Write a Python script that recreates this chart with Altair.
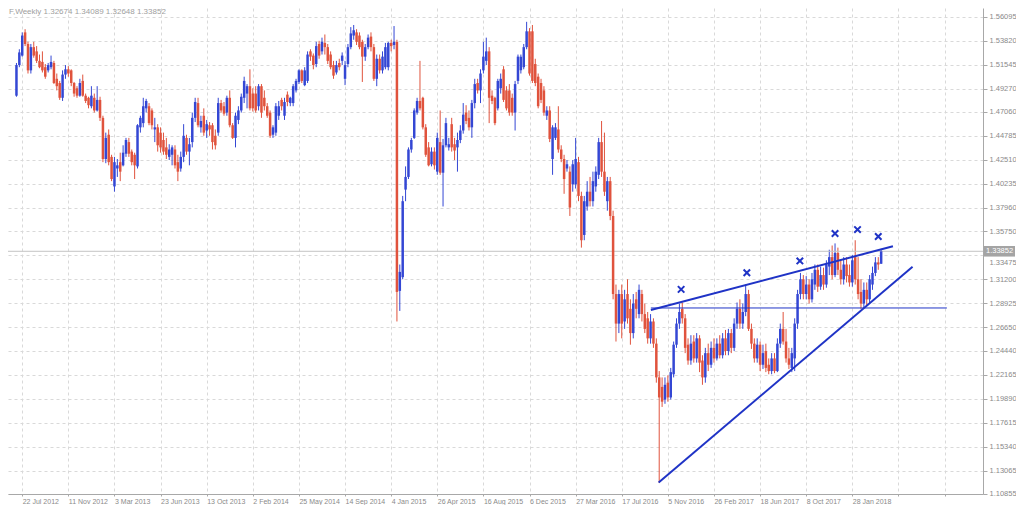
import altair as alt
import pandas as pd

header = "F,Weekly  1.32674 1.34089 1.32648 1.33852"

opens = [
    1.486, 1.515, 1.524, 1.546, 1.535, 1.510, 1.532, 1.528, 1.519, 1.518,
    1.513, 1.510, 1.513, 1.517, 1.502, 1.498, 1.484, 1.506, 1.511, 1.510,
    1.498, 1.493, 1.486, 1.500, 1.486, 1.484, 1.476, 1.484, 1.472, 1.482,
    1.465, 1.426, 1.449, 1.428, 1.400, 1.417, 1.423, 1.420, 1.431, 1.442,
    1.433, 1.430, 1.419, 1.456, 1.460, 1.474, 1.476, 1.472, 1.454, 1.456,
    1.451, 1.444, 1.437, 1.428, 1.430, 1.435, 1.423, 1.417, 1.428, 1.446,
    1.433, 1.442, 1.465, 1.479, 1.456, 1.467, 1.453, 1.458, 1.458, 1.448,
    1.451, 1.479, 1.476, 1.470, 1.484, 1.458, 1.446, 1.463, 1.472, 1.484,
    1.488, 1.495, 1.488, 1.488, 1.476, 1.495, 1.484, 1.476, 1.470, 1.449,
    1.451, 1.467, 1.482, 1.467, 1.487, 1.479, 1.479, 1.491, 1.499, 1.510,
    1.496, 1.500, 1.528, 1.524, 1.516, 1.535, 1.528, 1.536, 1.532, 1.525,
    1.515, 1.508, 1.517, 1.519, 1.502, 1.516, 1.532, 1.543, 1.546, 1.543,
    1.537, 1.523, 1.532, 1.542, 1.532, 1.502, 1.521, 1.510, 1.513, 1.513,
    1.536, 1.534, 1.537, 1.301, 1.314, 1.397, 1.409, 1.435, 1.446, 1.470,
    1.481, 1.484, 1.456, 1.437, 1.421, 1.433, 1.414, 1.442, 1.413, 1.439,
    1.437, 1.459, 1.440, 1.437, 1.444, 1.453, 1.470, 1.465, 1.456, 1.479,
    1.498, 1.491, 1.510, 1.519, 1.528, 1.486, 1.484, 1.474, 1.493, 1.511,
    1.491, 1.491, 1.484, 1.470, 1.500, 1.510, 1.513, 1.532, 1.547, 1.547,
    1.516, 1.504, 1.498, 1.491, 1.467, 1.472, 1.426, 1.446, 1.454, 1.435,
    1.426, 1.417, 1.414, 1.402, 1.402, 1.423, 1.391, 1.354, 1.381, 1.395,
    1.386, 1.400, 1.411, 1.442, 1.414, 1.386, 1.405, 1.372, 1.298, 1.270,
    1.298, 1.272, 1.298, 1.284, 1.261, 1.293, 1.279, 1.298, 1.279, 1.275,
    1.256, 1.272, 1.251, 1.219, 1.210, 1.198, 1.214, 1.200, 1.222, 1.250,
    1.270, 1.284, 1.275, 1.250, 1.235, 1.253, 1.237, 1.256, 1.235, 1.219,
    1.242, 1.231, 1.247, 1.237, 1.251, 1.240, 1.256, 1.244, 1.261, 1.247,
    1.270, 1.284, 1.270, 1.281, 1.298, 1.265, 1.251, 1.237, 1.250, 1.231,
    1.244, 1.231, 1.225, 1.237, 1.225, 1.251, 1.265, 1.253, 1.237, 1.228,
    1.237, 1.270, 1.298, 1.312, 1.298, 1.307, 1.293, 1.307, 1.321, 1.305,
    1.316, 1.307, 1.324, 1.333, 1.316, 1.337, 1.321, 1.312, 1.326, 1.316,
    1.309, 1.333, 1.312, 1.300, 1.289, 1.302, 1.293, 1.307, 1.318, 1.328,
    1.32674,
]

highs = [
    1.517, 1.530, 1.546, 1.549, 1.537, 1.535, 1.537, 1.533, 1.525, 1.528,
    1.516, 1.517, 1.524, 1.519, 1.507, 1.500, 1.510, 1.515, 1.514, 1.511,
    1.499, 1.495, 1.502, 1.506, 1.488, 1.485, 1.495, 1.488, 1.495, 1.485,
    1.467, 1.451, 1.454, 1.430, 1.428, 1.426, 1.432, 1.439, 1.446, 1.446,
    1.435, 1.432, 1.459, 1.467, 1.484, 1.483, 1.479, 1.474, 1.465, 1.459,
    1.456, 1.451, 1.446, 1.440, 1.439, 1.439, 1.430, 1.433, 1.459, 1.449,
    1.446, 1.470, 1.484, 1.484, 1.467, 1.474, 1.463, 1.461, 1.460, 1.454,
    1.484, 1.482, 1.480, 1.486, 1.491, 1.460, 1.470, 1.476, 1.488, 1.504,
    1.497, 1.511, 1.493, 1.495, 1.497, 1.497, 1.491, 1.479, 1.472, 1.458,
    1.479, 1.481, 1.484, 1.484, 1.490, 1.485, 1.497, 1.502, 1.511, 1.511,
    1.513, 1.528, 1.530, 1.526, 1.537, 1.538, 1.541, 1.544, 1.535, 1.528,
    1.519, 1.519, 1.521, 1.527, 1.519, 1.535, 1.551, 1.553, 1.549, 1.546,
    1.539, 1.535, 1.544, 1.546, 1.535, 1.525, 1.525, 1.528, 1.536, 1.537,
    1.539, 1.552, 1.539, 1.326, 1.391, 1.419, 1.437, 1.446, 1.474, 1.484,
    1.519, 1.485, 1.459, 1.442, 1.437, 1.437, 1.451, 1.472, 1.445, 1.465,
    1.446, 1.465, 1.446, 1.451, 1.458, 1.479, 1.477, 1.472, 1.482, 1.502,
    1.502, 1.511, 1.537, 1.541, 1.532, 1.491, 1.485, 1.502, 1.507, 1.514,
    1.495, 1.497, 1.488, 1.500, 1.525, 1.525, 1.535, 1.556, 1.550, 1.553,
    1.521, 1.507, 1.502, 1.495, 1.476, 1.476, 1.458, 1.460, 1.476, 1.439,
    1.430, 1.425, 1.419, 1.425, 1.446, 1.428, 1.395, 1.391, 1.405, 1.409,
    1.414, 1.419, 1.446, 1.462, 1.451, 1.409, 1.409, 1.377, 1.307, 1.302,
    1.307, 1.302, 1.312, 1.293, 1.298, 1.300, 1.307, 1.302, 1.289, 1.281,
    1.279, 1.275, 1.256, 1.225, 1.219, 1.219, 1.221, 1.228, 1.253, 1.275,
    1.289, 1.290, 1.279, 1.256, 1.259, 1.259, 1.261, 1.259, 1.240, 1.247,
    1.251, 1.253, 1.256, 1.256, 1.259, 1.261, 1.264, 1.265, 1.265, 1.275,
    1.290, 1.293, 1.289, 1.307, 1.302, 1.270, 1.256, 1.256, 1.253, 1.250,
    1.251, 1.237, 1.242, 1.242, 1.256, 1.270, 1.281, 1.265, 1.247, 1.247,
    1.275, 1.302, 1.318, 1.316, 1.315, 1.312, 1.318, 1.326, 1.326, 1.324,
    1.323, 1.330, 1.340, 1.344, 1.346, 1.342, 1.330, 1.333, 1.333, 1.326,
    1.335, 1.349, 1.333, 1.312, 1.309, 1.309, 1.316, 1.324, 1.333, 1.333,
    1.34089,
]

lows = [
    1.485, 1.513, 1.523, 1.533, 1.507, 1.507, 1.522, 1.517, 1.512, 1.508,
    1.502, 1.508, 1.511, 1.497, 1.491, 1.482, 1.481, 1.502, 1.504, 1.495,
    1.485, 1.484, 1.485, 1.485, 1.479, 1.474, 1.474, 1.470, 1.471, 1.462,
    1.423, 1.422, 1.420, 1.405, 1.395, 1.409, 1.405, 1.419, 1.428, 1.428,
    1.420, 1.407, 1.417, 1.451, 1.456, 1.470, 1.458, 1.454, 1.442, 1.433,
    1.432, 1.430, 1.426, 1.425, 1.420, 1.417, 1.405, 1.414, 1.423, 1.430,
    1.420, 1.437, 1.461, 1.456, 1.451, 1.448, 1.446, 1.448, 1.435, 1.435,
    1.448, 1.470, 1.467, 1.467, 1.456, 1.445, 1.437, 1.459, 1.470, 1.479,
    1.474, 1.472, 1.471, 1.470, 1.472, 1.465, 1.472, 1.465, 1.446, 1.446,
    1.448, 1.463, 1.472, 1.463, 1.476, 1.476, 1.476, 1.489, 1.497, 1.498,
    1.495, 1.498, 1.519, 1.511, 1.513, 1.521, 1.525, 1.525, 1.516, 1.511,
    1.502, 1.506, 1.510, 1.515, 1.496, 1.513, 1.530, 1.539, 1.534, 1.530,
    1.499, 1.519, 1.530, 1.528, 1.500, 1.495, 1.507, 1.507, 1.511, 1.510,
    1.528, 1.530, 1.272, 1.282, 1.312, 1.386, 1.407, 1.432, 1.445, 1.468,
    1.472, 1.454, 1.428, 1.419, 1.419, 1.416, 1.411, 1.411, 1.381, 1.437,
    1.434, 1.433, 1.425, 1.414, 1.441, 1.450, 1.459, 1.453, 1.446, 1.474,
    1.488, 1.479, 1.507, 1.515, 1.460, 1.478, 1.458, 1.472, 1.488, 1.480,
    1.472, 1.467, 1.467, 1.453, 1.497, 1.507, 1.511, 1.530, 1.505, 1.498,
    1.495, 1.474, 1.479, 1.467, 1.463, 1.442, 1.411, 1.444, 1.432, 1.423,
    1.393, 1.414, 1.372, 1.395, 1.398, 1.386, 1.342, 1.349, 1.377, 1.381,
    1.381, 1.395, 1.407, 1.409, 1.391, 1.377, 1.368, 1.293, 1.253, 1.261,
    1.256, 1.265, 1.270, 1.250, 1.256, 1.275, 1.275, 1.272, 1.261, 1.251,
    1.251, 1.247, 1.214, 1.119, 1.191, 1.194, 1.196, 1.198, 1.219, 1.247,
    1.265, 1.270, 1.242, 1.231, 1.231, 1.233, 1.233, 1.224, 1.212, 1.214,
    1.225, 1.228, 1.233, 1.235, 1.237, 1.237, 1.240, 1.240, 1.242, 1.244,
    1.265, 1.265, 1.265, 1.277, 1.263, 1.246, 1.233, 1.233, 1.225, 1.227,
    1.224, 1.222, 1.222, 1.223, 1.224, 1.247, 1.250, 1.233, 1.227, 1.224,
    1.225, 1.265, 1.293, 1.293, 1.293, 1.289, 1.290, 1.302, 1.300, 1.302,
    1.302, 1.304, 1.316, 1.312, 1.314, 1.316, 1.307, 1.307, 1.309, 1.305,
    1.305, 1.307, 1.293, 1.284, 1.285, 1.287, 1.289, 1.302, 1.315, 1.321,
    1.32648,
]

closes = [
    1.515, 1.527, 1.543, 1.535, 1.510, 1.532, 1.524, 1.519, 1.513, 1.510,
    1.504, 1.515, 1.518, 1.498, 1.495, 1.484, 1.506, 1.511, 1.507, 1.498,
    1.488, 1.486, 1.498, 1.486, 1.481, 1.477, 1.486, 1.472, 1.482, 1.465,
    1.426, 1.446, 1.423, 1.407, 1.423, 1.420, 1.414, 1.432, 1.444, 1.431,
    1.423, 1.420, 1.458, 1.465, 1.476, 1.481, 1.460, 1.458, 1.456, 1.439,
    1.437, 1.433, 1.430, 1.435, 1.437, 1.420, 1.414, 1.428, 1.448, 1.433,
    1.440, 1.465, 1.480, 1.458, 1.462, 1.451, 1.459, 1.454, 1.442, 1.439,
    1.479, 1.472, 1.469, 1.484, 1.458, 1.446, 1.467, 1.472, 1.485, 1.500,
    1.495, 1.474, 1.474, 1.472, 1.495, 1.470, 1.476, 1.467, 1.448, 1.456,
    1.476, 1.476, 1.476, 1.480, 1.480, 1.484, 1.495, 1.500, 1.510, 1.500,
    1.510, 1.525, 1.523, 1.515, 1.533, 1.524, 1.537, 1.532, 1.519, 1.513,
    1.505, 1.515, 1.513, 1.524, 1.515, 1.532, 1.545, 1.548, 1.537, 1.532,
    1.523, 1.532, 1.541, 1.532, 1.502, 1.521, 1.510, 1.523, 1.532, 1.536,
    1.533, 1.537, 1.300, 1.319, 1.386, 1.409, 1.435, 1.444, 1.472, 1.481,
    1.474, 1.456, 1.430, 1.420, 1.433, 1.420, 1.446, 1.413, 1.439, 1.460,
    1.440, 1.437, 1.434, 1.444, 1.453, 1.468, 1.462, 1.456, 1.479, 1.497,
    1.491, 1.507, 1.523, 1.528, 1.484, 1.481, 1.460, 1.500, 1.502, 1.482,
    1.474, 1.470, 1.470, 1.497, 1.523, 1.523, 1.532, 1.547, 1.507, 1.500,
    1.498, 1.476, 1.482, 1.470, 1.472, 1.445, 1.456, 1.456, 1.435, 1.426,
    1.407, 1.421, 1.380, 1.421, 1.426, 1.391, 1.349, 1.386, 1.395, 1.386,
    1.405, 1.414, 1.442, 1.414, 1.395, 1.405, 1.372, 1.298, 1.270, 1.298,
    1.270, 1.293, 1.275, 1.261, 1.289, 1.284, 1.302, 1.279, 1.265, 1.256,
    1.272, 1.251, 1.219, 1.200, 1.196, 1.212, 1.200, 1.224, 1.250, 1.270,
    1.281, 1.275, 1.247, 1.235, 1.251, 1.237, 1.256, 1.233, 1.219, 1.242,
    1.231, 1.247, 1.237, 1.251, 1.240, 1.256, 1.244, 1.261, 1.247, 1.270,
    1.284, 1.270, 1.281, 1.298, 1.265, 1.251, 1.237, 1.250, 1.231, 1.242,
    1.228, 1.225, 1.237, 1.225, 1.251, 1.265, 1.253, 1.237, 1.231, 1.242,
    1.270, 1.298, 1.312, 1.298, 1.307, 1.293, 1.312, 1.321, 1.305, 1.316,
    1.307, 1.326, 1.333, 1.316, 1.337, 1.321, 1.312, 1.326, 1.315, 1.309,
    1.330, 1.312, 1.298, 1.289, 1.302, 1.293, 1.312, 1.318, 1.328, 1.326,
    1.33852,
]

date_ticks = [2, 18, 34, 50, 66, 82, 98, 114, 130, 146, 162, 178, 194, 210,
              226, 242, 258, 274, 290, 306, 322]
date_labels = ["22 Jul 2012", "11 Nov 2012", "3 Mar 2013", "23 Jun 2013",
               "13 Oct 2013", "2 Feb 2014", "25 May 2014", "14 Sep 2014",
               "4 Jan 2015", "26 Apr 2015", "16 Aug 2015", "6 Dec 2015",
               "27 Mar 2016", "17 Jul 2016", "5 Nov 2016", "26 Feb 2017",
               "18 Jun 2017", "8 Oct 2017", "28 Jan 2018", "", ""]
price_ticks = [1.56095, 1.53820, 1.51545, 1.49270, 1.47060, 1.44785, 1.42510,
               1.40235, 1.37960, 1.35750, 1.33475, 1.31200, 1.28925, 1.26650,
               1.24440, 1.22165, 1.19890, 1.17615, 1.15340, 1.13065, 1.10855]
last_price = 1.33852

upper_idx = [220.1, 304.1]
upper_price = [1.2829, 1.3433]
lower_idx = [222.8, 310.9]
lower_price = [1.1194, 1.3238]
level_idx = [220.1, 322.8]
level_price = [1.2848, 1.2848]
cross_idx = [230.6, 253.4, 271.8, 284.0, 291.8, 299.0]
cross_price = [1.3024, 1.3182, 1.3294, 1.3554, 1.3591, 1.3526]

BLUE = "#3447d4"
RED = "#e0533d"
LINE_BLUE = "#1f33c6"
FONT = "Liberation Sans"
W, H = 975, 486

n = min(len(opens), len(highs), len(lows), len(closes))
df = pd.DataFrame({
    "idx": list(range(n)),
    "open": opens[:n], "high": highs[:n], "low": lows[:n], "close": closes[:n],
})
df["dir"] = ["up" if c >= o else "down" for o, c in zip(df["open"], df["close"])]

xs = alt.Scale(domain=[-1.2, 333.6], nice=False, zero=False)
ys = alt.Scale(domain=[1.1085, 1.5691], nice=False, zero=False)
color = alt.Color("dir:N", scale=alt.Scale(domain=["up", "down"], range=[BLUE, RED]), legend=None)

labels_js = "[" + ",".join("'" + s + "'" for s in date_labels) + "]"
x_axis = alt.Axis(values=date_ticks, labelExpr=labels_js + "[round((datum.value - 2) / 16)]",
                  labelAlign="left", labelBaseline="top", labelPadding=1, labelFontSize=7,
                  labelFont=FONT, labelColor="#8a8a8a", tickSize=2, tickColor="#a8a8a8",
                  domainColor="#a8a8a8", grid=True, gridColor="#d9d9d9", gridDash=[3, 3],
                  title=None, labelOverlap=False, labelFlush=False)
y_axis = alt.Axis(orient="right", values=price_ticks, format=".5f", labelFontSize=7.5,
                  labelFont=FONT, labelColor="#8a8a8a", tickSize=4, tickColor="#a8a8a8",
                  domainColor="#a8a8a8", grid=True, gridColor="#d9d9d9", gridDash=[3, 3],
                  title=None, labelPadding=2, labelOverlap=False, labelFlush=False,
                  labelOffset={"condition": {"test": "abs(datum.value - 1.33475) < 0.0001",
                                             "value": 7}, "value": 0})


def X(field):
    return alt.X(field, scale=xs, axis=x_axis, title=None)


def Y(field):
    return alt.Y(field, scale=ys, axis=y_axis, title=None)


base = alt.Chart(df)
wicks = base.mark_rule(strokeWidth=1).encode(
    x=X("idx:Q"), y=Y("low:Q"), y2="high:Q", color=color)
bodies = base.mark_bar(size=2.5).encode(
    x=X("idx:Q"), y=Y("open:Q"), y2="close:Q", color=color)

price_df = pd.DataFrame({"price": [last_price], "label": [f"{last_price:.5f}"]})
price_line = alt.Chart(price_df).mark_rule(color="#c4c4c4", strokeWidth=1).encode(
    y=Y("price:Q"))

trend_df = pd.DataFrame({
    "idx": upper_idx + lower_idx,
    "price": upper_price + lower_price,
    "line": ["upper", "upper", "lower", "lower"],
})
trends = alt.Chart(trend_df).mark_line(strokeWidth=2, color=LINE_BLUE).encode(
    x=X("idx:Q"), y=Y("price:Q"), detail="line:N")
level_df = pd.DataFrame({"idx": level_idx, "price": level_price})
level = alt.Chart(level_df).mark_line(strokeWidth=1, color=LINE_BLUE).encode(
    x=X("idx:Q"), y=Y("price:Q"))
cross_df = pd.DataFrame({"idx": cross_idx, "price": cross_price})
crosses = alt.Chart(cross_df).mark_point(
    shape="M-1,-1L1,1M1,-1L-1,1", filled=False, size=42, strokeWidth=2,
    color=LINE_BLUE, opacity=1,
).encode(x=X("idx:Q"), y=Y("price:Q"))

box = alt.Chart(price_df).mark_point(
    shape="M-1,-0.34L1,-0.34L1,0.34L-1,0.34Z", filled=True, size=31 * 31,
    color="#a4a4a4", opacity=1,
).encode(x=alt.value(W + 16.5), y=Y("price:Q"))
box_text = alt.Chart(price_df).mark_text(
    align="left", baseline="middle", fontSize=7.5, font=FONT, color="white",
).encode(x=alt.value(W + 3), y=Y("price:Q"), text="label:N")

head_df = pd.DataFrame({"t": [header]})
head = alt.Chart(head_df).mark_text(
    align="left", baseline="top", fontSize=8, font=FONT, color="#a0a0a0",
).encode(x=alt.value(1), y=alt.value(0), text="t:N")

chart = alt.layer(
    wicks, price_line, bodies, trends, level, crosses, box, box_text, head
).properties(
    width=W, height=H,
    autosize=alt.AutoSizeParams(type="none"),
    padding={"left": 0, "top": 0, "right": 33, "bottom": 11},
).configure(background="white").configure_view(stroke=None)

chart.save("out.html", embed_options={"renderer": "svg", "actions": False})
